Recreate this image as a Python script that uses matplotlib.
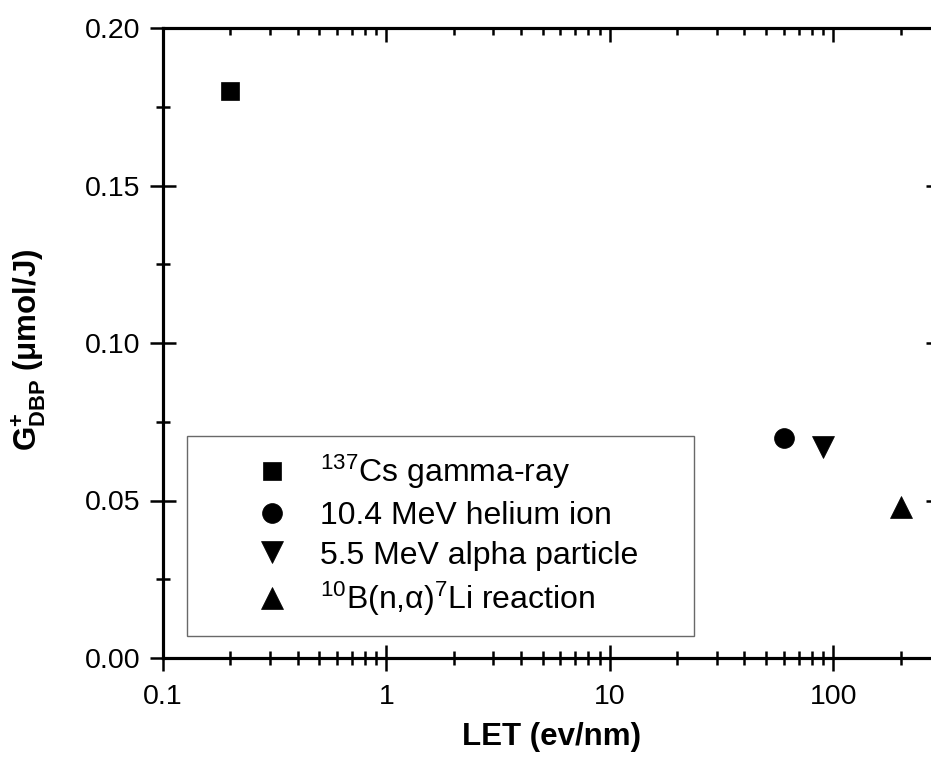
import numpy as np
import matplotlib as mpl
mpl.use("Agg")
import matplotlib.pyplot as plt
from matplotlib.ticker import LogLocator, MultipleLocator, NullFormatter

# ---------------------------------------------------------
# style
# ---------------------------------------------------------
mpl.rcParams['font.family'] = ['Liberation Sans', 'DejaVu Sans']
mpl.rcParams['mathtext.fontset'] = 'custom'
mpl.rcParams['mathtext.rm'] = 'Liberation Sans'
mpl.rcParams['mathtext.it'] = 'Liberation Sans:italic'
mpl.rcParams['mathtext.bf'] = 'Liberation Sans:bold'
mpl.rcParams['axes.linewidth'] = 2.2

# ---------------------------------------------------------
# data
# ---------------------------------------------------------
let_vals = [0.2, 60, 90, 200]          # eV/nm
g_vals = [0.180, 0.070, 0.067, 0.048]  # umol/J
labels = [
    r"$^{137}$Cs gamma-ray",
    "10.4 MeV helium ion",
    "5.5 MeV alpha particle",
    r"$^{10}$B(n,α)$^{7}$Li reaction",
]
markers = ["s", "o", "v", "^"]
msizes = [12.3, 14.3, 16.3, 16.3]

x_ticks = [0.1, 1, 10, 100]
x_ticklabels = ["0.1", "1", "10", "100"]
y_ticks = [0.00, 0.05, 0.10, 0.15, 0.20]

# ---------------------------------------------------------
# figure / axes (right spine sits just past the picture edge)
# ---------------------------------------------------------
W, H = 931, 761
fig = plt.figure(figsize=(W / 100, H / 100), dpi=100)
ax = fig.add_axes([163 / W, 1 - 658 / H, 777 / W, 630 / H])

for x, y, lab, m, ms in zip(let_vals, g_vals, labels, markers, msizes):
    ax.plot([x], [y], linestyle="none", marker=m, markersize=ms,
            color="black", markeredgecolor="black", markeredgewidth=0.5,
            label=lab)

ax.set_xscale("log")
ax.set_xlim(0.1, 300)
ax.set_ylim(0.0, 0.20)

ax.set_xticks(x_ticks)
ax.set_xticklabels(x_ticklabels)
ax.xaxis.set_minor_locator(LogLocator(base=10, subs=np.arange(2, 10)))
ax.xaxis.set_minor_formatter(NullFormatter())
ax.set_yticks(y_ticks)
ax.set_yticklabels([f"{v:.2f}" for v in y_ticks])
ax.yaxis.set_minor_locator(MultipleLocator(0.025))

ax.tick_params(which="major", direction="inout", length=19, width=1.8,
               labelsize=20.5)
ax.tick_params(which="minor", direction="inout", length=10, width=1.8)
ax.tick_params(axis="x", which="major", pad=9)
ax.tick_params(axis="y", which="major", pad=7)

# top / right ticks point inward only
axt = ax.twiny()
axt.set_xscale("log")
axt.set_xlim(ax.get_xlim())
axt.set_xticks(x_ticks)
axt.xaxis.set_minor_locator(LogLocator(base=10, subs=np.arange(2, 10)))
axt.tick_params(axis="x", which="major", direction="in", length=10, width=1.8,
                labeltop=False)
axt.tick_params(axis="x", which="minor", direction="in", length=5, width=1.8)

axr = ax.twinx()
axr.set_ylim(ax.get_ylim())
axr.set_yticks(y_ticks)
axr.yaxis.set_minor_locator(MultipleLocator(0.025))
axr.tick_params(axis="y", which="major", direction="in", length=10, width=1.8,
                labelright=False)
axr.tick_params(axis="y", which="minor", direction="in", length=5, width=1.8)

# ---------------------------------------------------------
# labels
# ---------------------------------------------------------
ax.set_xlabel("LET (ev/nm)", fontsize=22.5, fontweight="bold")
ax.set_ylabel(r"$\mathbf{G^{+}_{DBP}}$ ($\mathbf{\mu}$mol/J)",
              fontsize=22.5, fontweight="bold")
ax.xaxis.set_label_coords(0.5006, -0.102)
ax.yaxis.set_label_coords(-0.148, 0.489)

# ---------------------------------------------------------
# legend
# ---------------------------------------------------------
leg = ax.legend(
    loc="lower left",
    bbox_to_anchor=(24 / 777, 22 / 630, 507 / 777, 0),
    mode="expand",
    borderaxespad=0,
    fontsize=23,
    frameon=True,
    fancybox=False,
    edgecolor="#444444",
    borderpad=0.55,
    handlelength=4.2,
    handletextpad=-0.6,
    labelspacing=0.3,
    numpoints=1,
)
leg.get_frame().set_linewidth(1.0)
leg.set_zorder(5)

fig.savefig("out.png", dpi=100)
